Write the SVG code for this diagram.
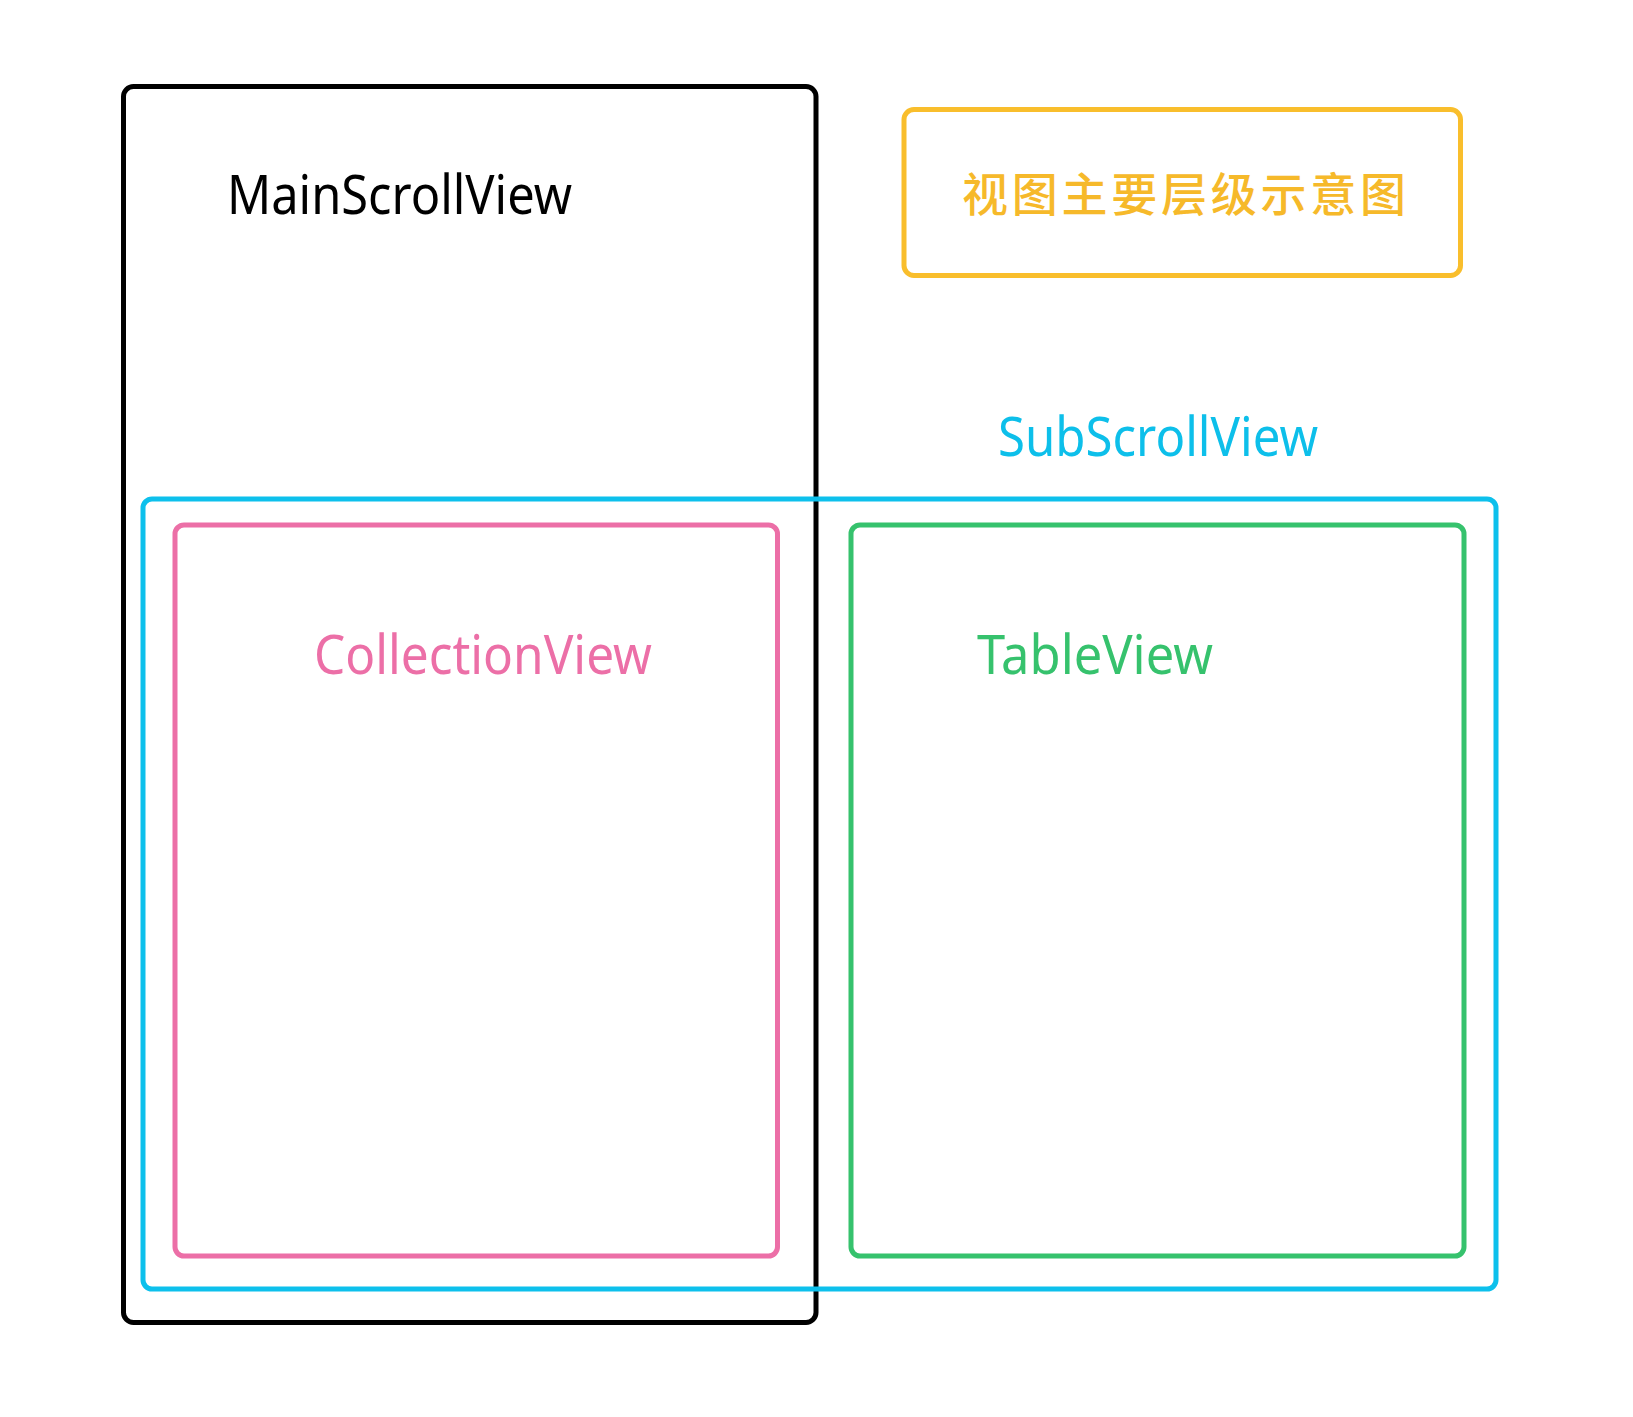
<svg xmlns="http://www.w3.org/2000/svg" width="1633" height="1417" viewBox="0 0 1633 1417">
<style>
.box{fill:none;stroke-width:5}
.lbl{font-family:"Noto Sans","Open Sans","Liberation Sans",sans-serif;font-size:54px}
.cjk{font-family:"Noto Sans CJK SC","Noto Sans",sans-serif;font-size:46px;font-weight:500}
</style>
<rect width="1633" height="1417" fill="#ffffff"/>
<g id="mainScrollView">
<rect class="box" x="123.5" y="86.5" width="692.5" height="1236" rx="10" stroke="#000000"/>
<text class="lbl" x="227" y="214" fill="#000000" textLength="345" lengthAdjust="spacingAndGlyphs">MainScrollView</text>
</g>
<g id="title">
<rect class="box" x="904" y="109.5" width="556.5" height="166" rx="10" stroke="#F9BE2C" stroke-width="4.5"/>
<text class="cjk" x="962" y="211" fill="#F6B92A" textLength="444" lengthAdjust="spacing">视图主要层级示意图</text>
</g>
<g id="subScrollView">
<rect class="box" x="143" y="499" width="1353" height="790" rx="9" stroke="#0DC0EC"/>
<text class="lbl" x="998" y="456" fill="#0DBFEA" textLength="320" lengthAdjust="spacingAndGlyphs">SubScrollView</text>
</g>
<g id="collectionView">
<rect class="box" x="175" y="525" width="602.5" height="731" rx="9" stroke="#EC6FA7"/>
<text class="lbl" x="314" y="674" fill="#EC6FA7" textLength="338" lengthAdjust="spacingAndGlyphs">CollectionView</text>
</g>
<g id="tableView">
<rect class="box" x="851" y="525" width="613" height="731" rx="9" stroke="#36C26D"/>
<text class="lbl" x="977" y="674" fill="#36C26D" textLength="236" lengthAdjust="spacingAndGlyphs">TableView</text>
</g>
<g id="connectors"></g>
</svg>
